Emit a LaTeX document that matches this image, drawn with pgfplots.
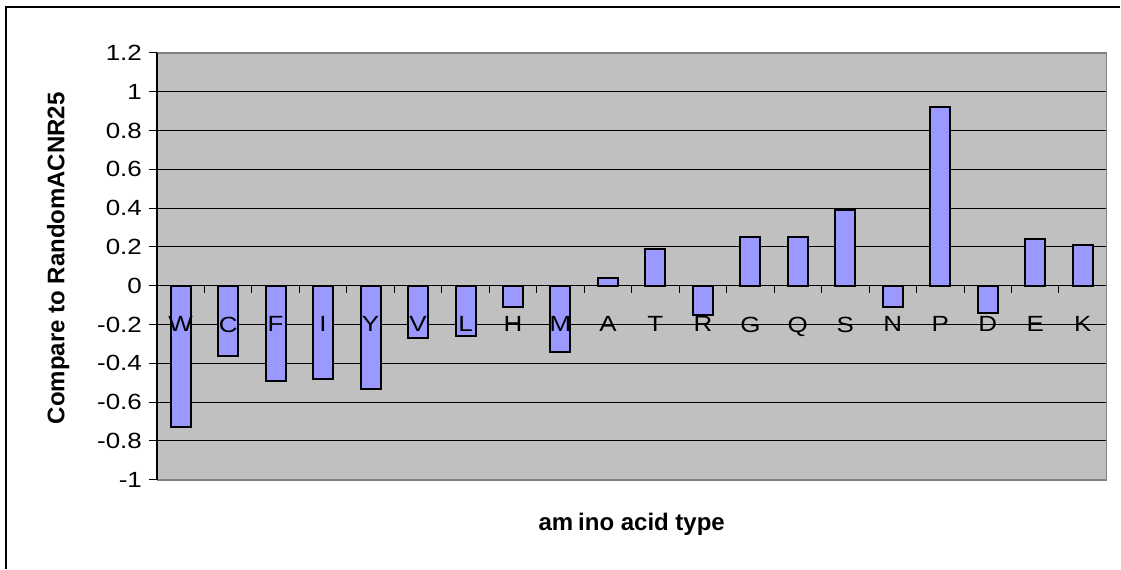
\documentclass[border=0pt]{standalone}
\usepackage{pgfplots}
\pgfplotsset{compat=1.18}
\usepackage{fontspec}
\setmainfont{Liberation Sans}
\newfontfamily\tickfont[FakeStretch=1.18]{Liberation Sans}
\definecolor{plotbg}{HTML}{C0C0C0}
\definecolor{barblue}{HTML}{9999FF}
\definecolor{framegray}{HTML}{808080}
\begin{document}
\begin{tikzpicture}
\path (0,0) rectangle (560.5pt,284.5pt);
\draw[black,line width=0.6pt] (3pt,0) -- (3pt,281pt) -- (560.5pt,281pt);
\begin{axis}[
  axis on top,
  at={(78.5pt,44.5pt)}, anchor=south west,
  scale only axis, width=475pt, height=213.5pt,
  xmin=-0.5, xmax=19.5, ymin=-1, ymax=1.2,
  axis x line*=middle, axis y line*=left,
  axis line style={black,line width=0.6pt,-},
  axis background/.style={fill=plotbg},
  ytick={-1,-0.8,...,1.21},
  yticklabels={-1,-0.8,-0.6,-0.4,-0.2,0,0.2,0.4,0.6,0.8,1,1.2},
  xtick={0,...,19},
  xticklabels={W,C,F,I,Y,V,L,H,M,A,T,R,G,Q,S,N,P,D,E,K},
  minor xtick={0.5,1.5,...,18.6},
  tick align=outside,
  major tick length=4pt, minor tick length=3.5pt,
  major x tick style={draw=none},
  tick style={black,line width=0.5pt},
  every tick label/.style={font=\tickfont\fontsize{11}{13}\selectfont},
  xticklabel style={yshift=-8pt},
  /pgf/number format/assume math mode=true,
  ylabel={Compare to RandomACNR25},
  xlabel={am\kern2.5pt ino acid type},
  label style={font=\bfseries\fontsize{12}{14}\selectfont},
  ylabel style={at={(axis description cs:-0.104,0.519)},anchor=center},
  xlabel style={at={(axis description cs:0.5,-0.1054)},anchor=center},
  ybar, bar width=10pt,
  clip=false,
]
\foreach \g in {-0.8,-0.6,-0.4,-0.2,0.2,0.4,0.6,0.8,1.0} {
  \edef\tmp{\noexpand\draw[black,line width=0.5pt] (axis cs:-0.5,\g) -- (axis cs:19.5,\g);}\tmp
}
\addplot[fill=barblue,draw=black,line width=1pt] coordinates {
(0,-0.73) (1,-0.36) (2,-0.49) (3,-0.48) (4,-0.53) (5,-0.27) (6,-0.26) (7,-0.11) (8,-0.34) (9,0.04)
(10,0.19) (11,-0.15) (12,0.25) (13,0.25) (14,0.39) (15,-0.11) (16,0.92) (17,-0.14) (18,0.24) (19,0.21)};
\draw[framegray,line width=0.8pt] (rel axis cs:0,0) -- (rel axis cs:1,0) -- (rel axis cs:1,1) -- (rel axis cs:0,1);
\end{axis}
\end{tikzpicture}
\end{document}
